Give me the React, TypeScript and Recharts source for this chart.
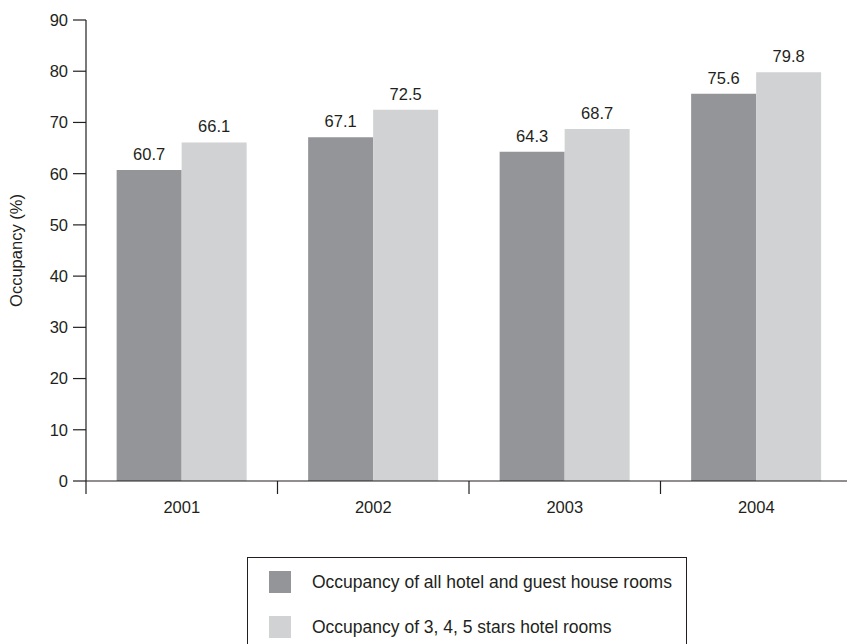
import React from "react";
import { BarChart, Bar, XAxis, YAxis, LabelList, Label } from "recharts";

const years = ["2001", "2002", "2003", "2004"];
const allRooms = [60.7, 67.1, 64.3, 75.6];
const starRooms = [66.1, 72.5, 68.7, 79.8];
const yTicks = [0, 10, 20, 30, 40, 50, 60, 70, 80, 90];

const SERIES = [
  { key: "all", label: "Occupancy of all hotel and guest house rooms", color: "#939598" },
  { key: "stars", label: "Occupancy of 3, 4, 5 stars hotel rooms", color: "#d1d2d4" },
];

const data = years.map((y, i) => ({ year: y, all: allRooms[i], stars: starRooms[i] }));

const FONT = "'Liberation Sans', Arial, sans-serif";
const INK = "#231f20";

// category tick: label at the centre, tick marks on the band edges
function YearTick(props: any) {
  const { x, y, payload, index } = props;
  const half = payload.offset || 0;
  const axisY = y - 20;
  return (
    <g>
      <line x1={x - half} x2={x - half} y1={axisY} y2={axisY + 13} stroke={INK} strokeWidth={1.2} />
      {index === years.length - 1 && (
        <line x1={x + half} x2={x + half} y1={axisY} y2={axisY + 13} stroke={INK} strokeWidth={1.2} />
      )}
      <text x={x} y={y} dy="0.71em" textAnchor="middle" fill={INK} fontSize={16.5} fontFamily={FONT}>
        {payload.value}
      </text>
    </g>
  );
}

function YLabel(props: any) {
  const { viewBox } = props;
  const cx = viewBox.x + 18;
  const cy = viewBox.y + viewBox.height / 2;
  return (
    <text x={cx} y={cy} transform={`rotate(-90 ${cx} ${cy})`} textAnchor="middle" dominantBaseline="middle"
      fill={INK} fontSize={16.5} fontFamily={FONT}>
      Occupancy (%)
    </text>
  );
}

export default function App() {
  return (
    <div style={{ position: "absolute", left: 0, top: 0, width: 847, height: 644, overflow: "hidden", background: "#fff" }}>
      <BarChart width={853} height={644} data={data} margin={{ top: 20, right: 1, left: 0, bottom: 133 }}
        barCategoryGap="16%" barGap={0}>
        <XAxis dataKey="year" height={30} tickLine={false} tickSize={6} tickMargin={14}
          axisLine={{ stroke: INK, strokeWidth: 1.2 }} tick={<YearTick />} interval={0} />
        <YAxis width={86} domain={[0, 90]} ticks={yTicks} tickSize={13} tickMargin={5}
          axisLine={{ stroke: INK, strokeWidth: 1.2 }} tickLine={{ stroke: INK, strokeWidth: 1.2 }}
          tick={{ fill: INK, fontSize: 16.5, fontFamily: FONT }} interval={0}>
          <Label content={<YLabel />} />
        </YAxis>
        {SERIES.map((s) => (
          <Bar key={s.key} dataKey={s.key} name={s.label} fill={s.color} isAnimationActive={false}>
            <LabelList dataKey={s.key} position="top" offset={10} fill={INK} fontSize={16.5} fontFamily={FONT} />
          </Bar>
        ))}
      </BarChart>
      <div style={{ position: "absolute", left: 247, top: 557, width: 440, height: 120, border: `1.2px solid ${INK}`,
        boxSizing: "border-box", fontFamily: FONT, fontSize: 17.5, color: INK }}>
        {SERIES.map((s, i) => (
          <div key={s.key} style={{ position: "absolute", left: 21, top: 13 + i * 45, display: "flex", alignItems: "center" }}>
            <span style={{ display: "inline-block", width: 22, height: 22, background: s.color, marginRight: 21 }} />
            <span style={{ whiteSpace: "nowrap" }}>{s.label}</span>
          </div>
        ))}
      </div>
    </div>
  );
}
